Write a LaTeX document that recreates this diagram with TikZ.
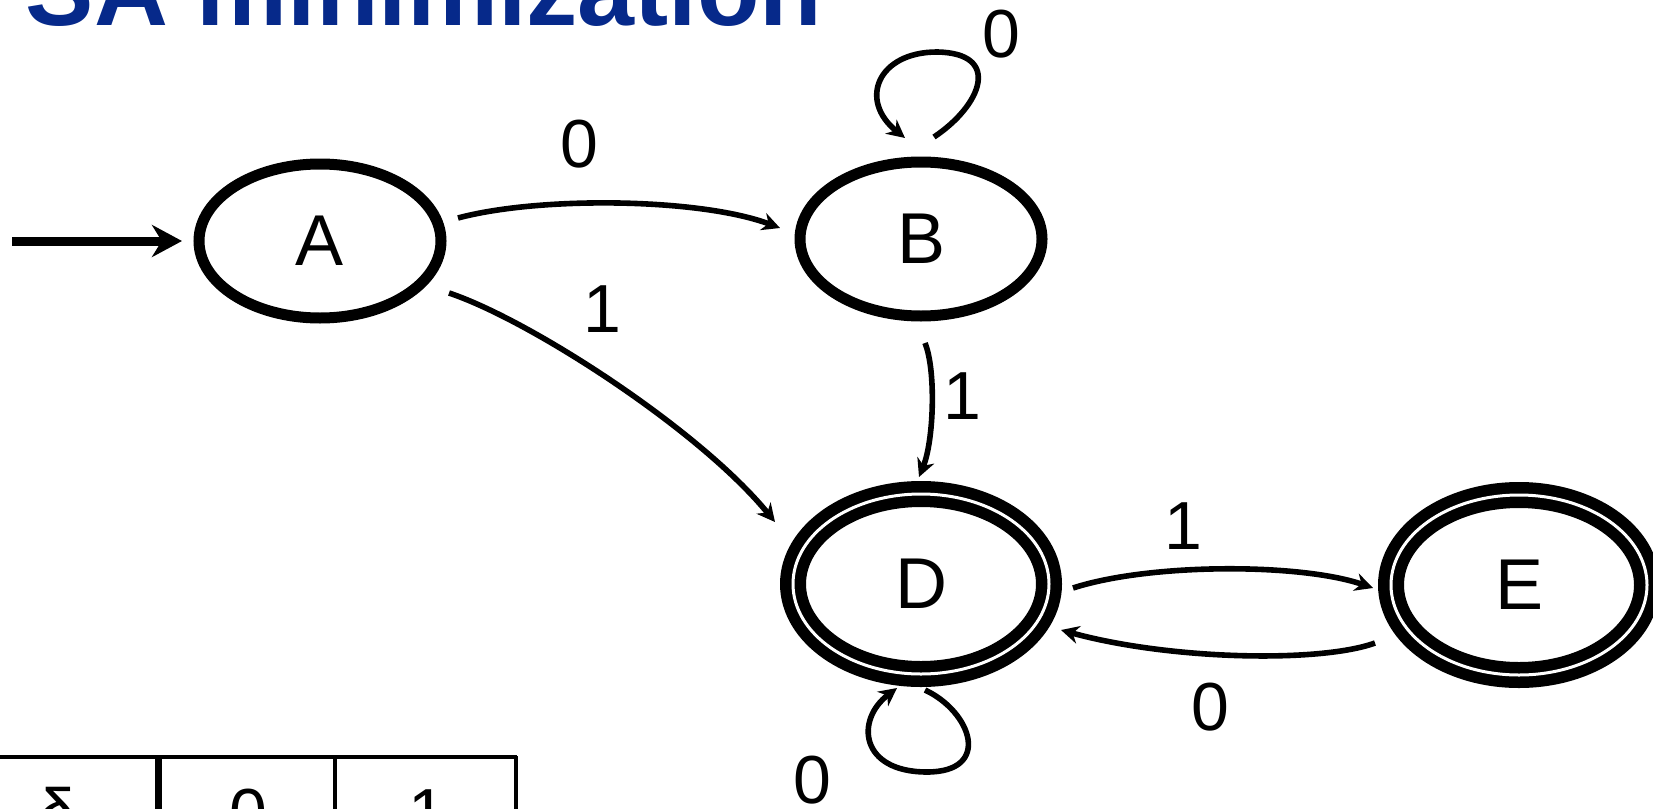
\documentclass[tikz,border=0pt]{standalone}
\usepackage{fontspec}
\setmainfont{Liberation Sans}
\usetikzlibrary{shapes.geometric,arrows.meta,calc}
\definecolor{titleblue}{RGB}{6,41,138}
\begin{document}
\begin{tikzpicture}[x=0.5pt,y=-0.5pt,
  state/.style={ellipse,draw,line width=5.5pt,minimum width=121pt,minimum height=77pt,
    inner sep=0pt,font=\fontsize{36}{40}\selectfont},
  final/.style={state,double,line width=5.75pt,double distance=1.5pt,
    minimum width=128pt,minimum height=90pt},
  trans/.style={line width=2.8pt,-{Stealth[length=9pt,width=9pt]}},
  startarrow/.style={line width=4.5pt,-{Stealth[length=15pt,width=16pt]}},
  lbl/.style={font=\fontsize{34}{38}\selectfont,inner sep=0pt},
  cell/.style={font=\fontsize{34}{38}\selectfont,inner sep=0pt,anchor=base},
]
\useasboundingbox (0,0) rectangle (1653,808);
\clip (0,0) rectangle (1653,808);

% title
\node[anchor=base west,inner sep=0pt,text=titleblue,
  font=\fontsize{51.2}{54}\selectfont\bfseries] (title) at (-37,26) {FSA minimization};

% states
\node[state]    (A) at (320,241) {A};
\node[state]    (B) at (921,239) {B};
\node[final]    (D) at (921,584) {D};
\node[final]    (E) at (1519,585) {E};

% start arrow
\coordinate (start) at (12,241);
\draw[startarrow] (start) -- ($(A.center)+(-138,0)$);

% transitions
\draw[trans] ($(A.center)+(138,-23)$) .. controls (540,196) and (700,198) .. ($(B.center)+(-141,-11)$);
\node[lbl] (lAB) at (579,144) {0};

\draw[trans] ($(A.center)+(129,52)$) .. controls (530,320) and (700,430) .. ($(D.center)+(-146,-62)$);
\node[lbl] (lAD) at (602,309) {1};

\draw[trans] ($(B.center)+(4,104)$) .. controls (936,370) and (934,440) .. ($(D.center)+(-2,-107)$);
\node[lbl] (lBD) at (962,396) {1};

\draw[trans] ($(B.center)+(13,-102)$) .. controls (982,105) and (1002,53) .. (937,52)
  .. controls (878,52) and (858,100) .. ($(B.center)+(-16,-101)$);
\node[lbl] (lBB) at (1001,34) {0};

\draw[trans] ($(D.center)+(152,4)$) .. controls (1150,563) and (1300,563) .. ($(E.center)+(-146,3)$);
\node[lbl] (lDE) at (1183,526) {1};

\draw[trans] ($(E.center)+(-144,58)$) .. controls (1320,663) and (1170,660) .. ($(D.center)+(140,46)$);
\node[lbl] (lED) at (1210,707) {0};

\draw[trans] ($(D.center)+(4,106)$) .. controls (972,712) and (992,772) .. (927,772)
  .. controls (860,772) and (855,720) .. ($(D.center)+(-24,104)$);
\node[lbl] (lDD) at (812,780) {0};

% transition table header
\draw[line width=2pt] (0,757) -- (517,757);
\draw[line width=3.5pt] (158,755) -- (158,820);
\draw[line width=1.75pt] (335,756) -- (335,820);
\draw[line width=1.75pt] (516,756) -- (516,820);
\node[cell] (hd) at (71,836) {δ\textsubscript{2}};
\node[cell] (h0) at (248,836) {0};
\node[cell] (h1) at (427,836) {1};
\end{tikzpicture}
\end{document}
